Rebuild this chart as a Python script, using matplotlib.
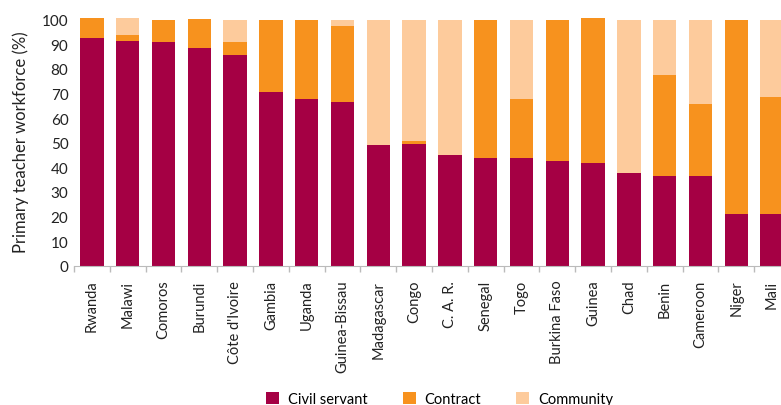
import numpy as np
import matplotlib
matplotlib.use("Agg")
from matplotlib import pyplot as plt

# data (%)
countries = ['Rwanda', 'Malawi', 'Comoros', 'Burundi', "Côte d'Ivoire", 'Gambia', 'Uganda',
             'Guinea-Bissau', 'Madagascar', 'Congo', 'C. A. R.', 'Senegal', 'Togo',
             'Burkina Faso', 'Guinea', 'Chad', 'Benin', 'Cameroon', 'Niger', 'Mali']
civil_servant = [92.6, 91.5, 91.1, 88.6, 85.8, 70.7, 67.9, 66.7, 49.1, 49.5,
                 45.1, 43.9, 43.9, 42.7, 41.7, 37.8, 36.6, 36.6, 21.0, 21.0]
contract = [8.0, 2.3, 8.9, 11.8, 5.1, 29.3, 32.1, 30.9, 0.0, 1.2,
            0.0, 56.1, 24.0, 57.3, 58.9, 0.0, 40.9, 29.3, 79.0, 47.6]
community = [0.0, 6.8, 0.0, 0.0, 9.1, 0.0, 0.0, 2.4, 50.9, 49.3,
             54.9, 0.0, 32.1, 0.0, 0.0, 62.2, 22.5, 34.1, 0.0, 31.4]

plt.rcParams['font.family'] = ['Lato', 'DejaVu Sans']

fig = plt.figure(figsize=(7.81, 4.06), dpi=100)
ax = fig.add_axes([0.0948, 0.343, 0.9052, 0.612])

x = np.arange(len(countries))
w = 0.65
civil_arr = np.array(civil_servant)
contract_arr = np.array(contract)
community_arr = np.array(community)

ax.bar(x, civil_arr, w, color='#A50044', label='Civil servant')
ax.bar(x, contract_arr, w, bottom=civil_arr, color='#F7921E', label='Contract')
ax.bar(x, community_arr, w, bottom=civil_arr + contract_arr, color='#FDCB9C', label='Community')

ax.set_xlim(-0.5, 19.25)
ax.set_ylim(0, 101)
ax.set_yticks(np.arange(0, 101, 10))
ax.set_xticks(x)
ax.set_xticklabels(countries, rotation=90, fontsize=10.5, color='#222222')
ax.set_xticks(np.arange(-0.5, 19.5, 1), minor=True)
ax.tick_params(axis='x', which='major', length=0, pad=10)
ax.tick_params(axis='x', which='minor', length=4, color='#bbbbbb', width=1)
ax.tick_params(axis='y', length=0, labelsize=11, colors='#222222', pad=4)
ax.set_ylabel('Primary teacher workforce (%)', fontsize=12, color='#222222', labelpad=9)

for s in ['top', 'right', 'left']:
    ax.spines[s].set_visible(False)
ax.spines['bottom'].set_color('#bbbbbb')

fig.legend(loc='lower center', bbox_to_anchor=(0.563, -0.035), ncol=3, frameon=False,
           fontsize=10.5, handlelength=0.9, handleheight=0.9, columnspacing=2.4,
           handletextpad=0.6)

fig.savefig('out.png', dpi=100)
